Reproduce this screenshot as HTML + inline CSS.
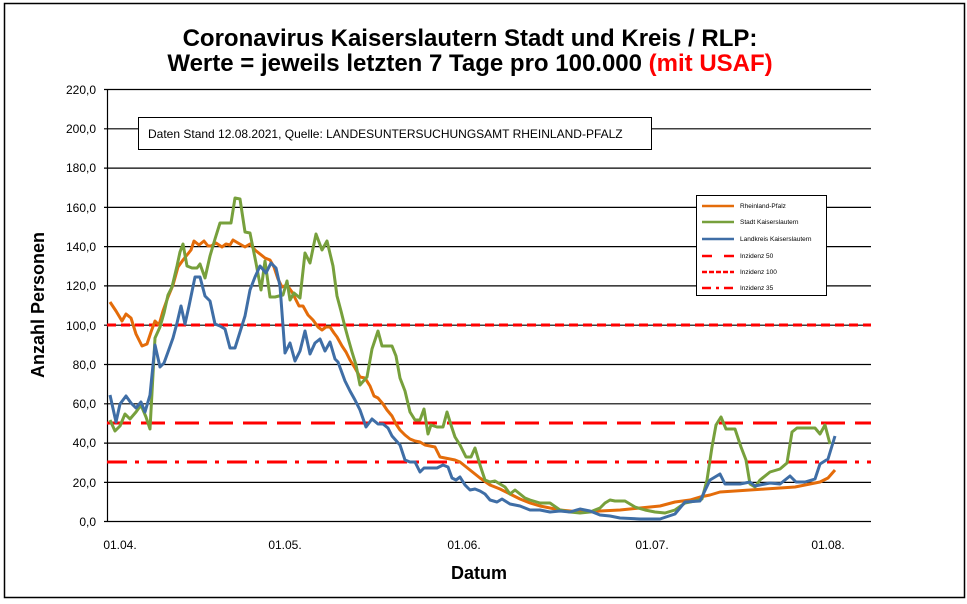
<!DOCTYPE html>
<html><head><meta charset="utf-8"><style>
body{margin:0;background:#fff;}
svg{display:block;font-family:"Liberation Sans",Arial,sans-serif;}
</style></head><body>
<svg width="967" height="604" viewBox="0 0 967 604" xmlns="http://www.w3.org/2000/svg">
<rect x="0" y="0" width="967" height="604" fill="#fff"/>
<rect x="4.5" y="3.5" width="960" height="594" fill="none" stroke="#000" stroke-width="1.5"/>
<text x="470" y="46" text-anchor="middle" font-size="24" font-weight="bold">Coronavirus Kaiserslautern Stadt und Kreis / RLP:</text>
<text x="470" y="71" text-anchor="middle" font-size="24" font-weight="bold">Werte = jeweils letzten 7 Tage pro 100.000 <tspan fill="#ff0000">(mit USAF)</tspan></text>
<g stroke="#000" stroke-width="1.2">
<line x1="104" y1="89.5" x2="871" y2="89.5"/>
<line x1="104" y1="128.8" x2="871" y2="128.8"/>
<line x1="104" y1="168.1" x2="871" y2="168.1"/>
<line x1="104" y1="207.4" x2="871" y2="207.4"/>
<line x1="104" y1="246.6" x2="871" y2="246.6"/>
<line x1="104" y1="285.9" x2="871" y2="285.9"/>
<line x1="104" y1="325.2" x2="871" y2="325.2"/>
<line x1="104" y1="364.5" x2="871" y2="364.5"/>
<line x1="104" y1="403.8" x2="871" y2="403.8"/>
<line x1="104" y1="443.1" x2="871" y2="443.1"/>
<line x1="104" y1="482.4" x2="871" y2="482.4"/>
<line x1="104" y1="521.5" x2="871" y2="521.5"/>
<line x1="107.5" y1="89" x2="107.5" y2="521"/>
</g>
<g font-size="12" text-anchor="end" fill="#000">
<text x="96" y="94">220,0</text><text x="96" y="133">200,0</text><text x="96" y="172">180,0</text>
<text x="96" y="212">160,0</text><text x="96" y="251">140,0</text><text x="96" y="290">120,0</text>
<text x="96" y="330">100,0</text><text x="96" y="369">80,0</text><text x="96" y="408">60,0</text>
<text x="96" y="447">40,0</text><text x="96" y="487">20,0</text><text x="96" y="526">0,0</text>
</g>
<g font-size="12" text-anchor="middle">
<text x="120" y="549">01.04.</text><text x="285" y="549">01.05.</text><text x="464" y="549">01.06.</text>
<text x="652" y="549">01.07.</text><text x="828" y="549">01.08.</text>
</g>
<text x="479" y="579" text-anchor="middle" font-size="18" font-weight="bold">Datum</text>
<text transform="translate(44,305) rotate(-90)" text-anchor="middle" font-size="18" font-weight="bold">Anzahl Personen</text>
<rect x="138.5" y="117.5" width="513" height="32" fill="#fff" stroke="#000"/>
<text x="148" y="138" font-size="12">Daten Stand 12.08.2021, Quelle: LANDESUNTERSUCHUNGSAMT RHEINLAND-PFALZ</text>
<g stroke="#ff0000" stroke-width="3" fill="none">
<line x1="107" y1="325" x2="871" y2="325" stroke-dasharray="9,5"/>
<line x1="107" y1="423" x2="871" y2="423" stroke-dasharray="24,10"/>
<line x1="107" y1="462" x2="871" y2="462" stroke-dasharray="20,8,4,8"/>
</g>
<g fill="none" stroke-width="3" stroke-linejoin="round">
<polyline stroke="#e46c0a" points="110,302 116,311 122,321 126,314 131,318 136,334 142,346 147,344 151,332 155,321 159,325 163,311 168,297 173,285 178,267 183,260 187,255 191,250 194,241 199,245 204,241 208,246 211,246 216,243 222,247 226,244 230,245 233,240 238,243 245,247 250,244 255,250 260,254 265,258 270,260 274,267 278,279 282,287 287,285 292,292 296,300 299,306 303,306 308,315 313,320 318,327 322,330 326,327 330,327 334,333 337,337 342,346 346,352 350,360 355,368 360,377 365,378 370,386 374,396 378,398 383,404 387,410 392,416 396,424 400,430 405,435 410,439 415,441 420,442 425,445 430,446 435,447 440,457 445,458 455,460 460,462 470,470 480,478 490,485 500,489 510,494 520,499 530,503 540,506 550,508 560,510 570,511 580,512 590,512 600,511 620,510 640,508 660,506 675,502 690,500 700,497 710,495 720,492 735,491 750,490 765,489 780,488 795,487 810,484 820,482 828,478 835,470"/>
<polyline stroke="#77a03c" points="110,420 115,431 120,426 125,414 130,419 136,412 141,405 146,417 150,429 155,338 160,327 164,313 168,295 172,287 177,266 180,252 183,244 187,266 192,268 197,268 200,264 205,278 210,256 215,239 220,223 225,223 231,223 235,198 240,199 245,232 250,233 256,263 261,290 265,261 270,297 275,297 279,296 283,295 287,281 290,300 294,293 300,298 305,253 310,263 316,234 322,250 327,241 333,266 337,296 341,311 345,327 348,338 352,352 356,365 360,385 367,377 372,349 378,331 382,346 387,346 392,346 396,356 400,378 405,391 410,412 415,420 420,420 424,409 428,434 431,425 437,427 443,427 447,412 451,425 455,437 460,445 466,457 471,457 475,448 480,465 485,480 490,482 495,481 500,484 505,487 510,494 515,490 520,494 525,498 530,500 540,503 550,503 560,510 570,512 580,513 590,512 600,508 605,503 610,500 615,501 625,501 635,507 645,510 655,512 665,513 675,510 685,503 695,501 702,499 707,480 712,447 716,425 721,417 726,429 735,429 741,447 746,460 750,484 755,487 760,480 770,472 780,469 787,463 792,432 797,428 808,428 815,428 820,434 825,425 830,444"/>
<polyline stroke="#3f6ea6" points="110,395 116,422 120,404 126,396 131,403 136,408 141,402 145,412 150,395 155,345 160,367 164,363 168,352 173,338 177,323 181,306 185,324 189,306 195,277 200,277 205,296 210,301 215,324 220,326 225,329 230,348 235,348 240,332 245,316 250,290 255,277 260,266 266,273 271,263 276,268 280,286 285,353 290,343 295,361 300,351 305,331 310,354 315,343 320,339 325,351 330,342 335,359 338,362 345,381 350,391 355,400 360,410 366,427 372,419 378,424 383,424 388,428 392,436 400,445 405,460 410,462 415,462 420,472 424,468 430,468 437,468 443,465 448,467 452,478 456,480 460,477 465,485 470,490 475,489 480,491 485,494 490,500 497,502 502,499 510,504 520,506 530,510 540,510 550,512 560,511 570,512 580,509 590,511 600,515 610,516 620,518 640,519 660,519 675,514 685,502 700,501 710,480 720,474 725,484 740,484 750,482 755,486 770,483 780,484 790,476 796,482 805,482 815,479 820,464 828,459 835,436"/>
</g>
<rect x="696.5" y="195.5" width="130" height="100" fill="#fff" stroke="#000"/>
<g stroke-width="2.5">
<line x1="702" y1="206" x2="734" y2="206" stroke="#e46c0a"/>
<line x1="702" y1="222" x2="734" y2="222" stroke="#77a03c"/>
<line x1="702" y1="239" x2="734" y2="239" stroke="#3f6ea6"/>
<line x1="702" y1="256" x2="734" y2="256" stroke="#ff0000" stroke-dasharray="10,12"/>
<line x1="702" y1="272" x2="734" y2="272" stroke="#ff0000" stroke-dasharray="5,2"/>
<line x1="702" y1="288" x2="734" y2="288" stroke="#ff0000" stroke-dasharray="9,5,3,5"/>
</g>
<g font-size="6.5" fill="#000">
<text x="740" y="208">Rheinland-Pfalz</text>
<text x="740" y="224">Stadt Kaiserslautern</text>
<text x="740" y="241">Landkreis Kaiserslautern</text>
<text x="740" y="258">Inzidenz 50</text>
<text x="740" y="274">Inzidenz 100</text>
<text x="740" y="290">Inzidenz 35</text>
</g>
</svg>
</body></html>
